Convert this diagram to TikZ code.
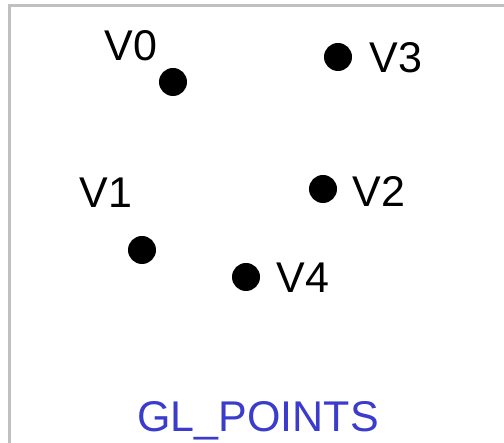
\documentclass[tikz,border=0pt]{standalone}
\usepackage{fontspec}
\setmainfont{Liberation Sans}
\usetikzlibrary{positioning}
\definecolor{frameGray}{RGB}{192,192,192}
\definecolor{modeBlue}{RGB}{60,60,204}

\begin{document}
\begin{tikzpicture}[x=1pt,y=-1pt,
  dot/.style={circle,fill=black,inner sep=0pt,minimum size=28pt},
  vlabel/.style={anchor=base,inner sep=0pt,font=\fontsize{43}{43}\selectfont}]
  \useasboundingbox (0,0) rectangle (504,443);
  % ===== Frame =====
  \draw[frameGray,line width=3pt] (9,443) -- (9,6) -- (504,6);

  % --- Vertices ---
  \node[dot] (v0) at (173,82) {};
  \node[dot] (v1) at (142,250) {};
  \node[dot] (v2) at (323,189) {};
  \node[dot] (v3) at (338,57) {};
  \node[dot] (v4) at (246,277) {};

  % --- Labels ---
  \node[vlabel] (l0) at (131,61) {V0};
  \node[vlabel] (l1) at (106,208) {V1};
  \node[vlabel] (l2) at (379,207) {V2};
  \node[vlabel] (l3) at (396,73) {V3};
  \node[vlabel] (l4) at (303,293) {V4};

  % --- Primitive name ---
  \node[vlabel,modeBlue] (mode) at (258,432) {GL\_POINTS};
\end{tikzpicture}
\end{document}
